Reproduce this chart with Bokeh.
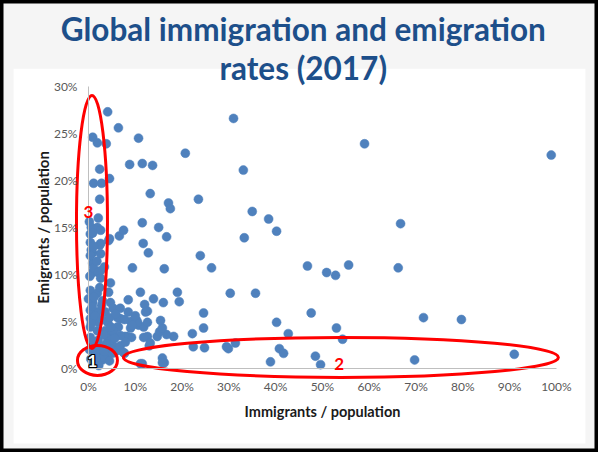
from bokeh.plotting import figure
from bokeh.models import Range1d, LinearAxis, FixedTicker, Label
from bokeh.embed import file_html
from bokeh.resources import INLINE

# Immigrants and emigrants as a share of each country's population (%), 2017
immigrants_pct = [
    4.1, 6.4, 0.9, 1.9, 3.8, 10.7, 20.7, 8.8, 11.5, 13.7,
    2.4, 1.1, 2.8, 4.5, 13.2, 23.5, 17.1, 17.5, 2.4, 2.1,
    11.5, 15.0, 16.7, 0.6, 1.9, 0.4, 6.6, 7.5, 4.5, 31.0,
    33.1, 59.0, 98.9, 35.0, 38.5, 40.2, 33.3, 66.7, 23.9, 26.3,
    46.8, 50.9, 52.8, 55.6, 66.2, 30.3, 35.7, 24.6, 47.6, 24.6,
    40.2, 53.0, 42.7, 54.3, 24.8, 29.9, 31.4, 38.9, 40.8, 41.7,
    48.5, 49.6, 71.6, 79.7, 69.7, 91.0, 9.4, 16.2, 11.7, 12.8,
    11.1, 8.5, 13.9, 12.0, 16.0, 19.0, 19.4, 12.6, 22.2, 18.2,
    16.7, 14.7, 15.2, 12.6, 13.0, 10.7, 11.8, 10.3, 9.0, 6.8,
    6.4, 8.3, 22.4, 29.5, 15.8, 16.2, 7.7, 11.1, 0.9, 2.6,
    0.4, 0.9, 2.6, 0.9, 2.6, 0.9, 4.7, 0.4, 1.9, 4.3,
    0.9, 3.0, 4.7, 5.3, 6.8, 0.4, 1.9, 3.6, 0.4, 2.1,
    4.1, 0.4, 1.9, 3.6, 5.1, 0.4, 2.1, 4.1, 5.3, 3.0,
    4.7, 4.1, 3.0, 1.9, 0.9, 0.9, 6.2, 6.2, 7.7, 6.2,
    9.0, 10.5, 9.2, 7.7, 6.8, 4.5, 2.6, 0.6, 2.4, 4.3,
    0.4, 1.1, 2.1, 0.0, 2.8, 8.5, 10.0, 12.2, 12.6, 9.4,
    5.3, 6.8, 4.7, 7.9, 11.8, 13.2, 15.8, 15.4, 3.2, 5.1,
    7.5, 11.5, 15.8, 0.2, 1.0, 1.6, 2.4, 3.3, 0.6, 1.4,
    2.8, 1.2, 2.4, 0.3, 1.8, 0.5, 2.2, 4.5, 3.8, 5.6,
    0.8, 3.2, 4.8, 5.8, 2.6, 1.1, 0.2, 3.4,
]
emigrants_pct = [
    27.3, 25.6, 24.6, 24.0, 23.9, 24.5, 22.9, 21.7, 21.8, 21.6,
    21.2, 19.7, 19.7, 20.2, 18.6, 18.0, 17.6, 17.0, 18.0, 16.0,
    15.5, 15.0, 14.0, 15.0, 15.0, 14.3, 14.1, 14.7, 13.8, 26.6,
    21.1, 23.9, 22.7, 16.7, 15.9, 14.6, 13.9, 15.4, 12.0, 10.7,
    10.9, 10.2, 9.9, 11.0, 10.7, 8.0, 8.0, 5.9, 5.9, 4.3,
    4.9, 4.3, 3.7, 3.1, 2.2, 2.1, 2.7, 0.7, 2.1, 1.6,
    1.3, 0.4, 5.4, 5.2, 0.9, 1.5, 10.7, 10.6, 13.3, 12.3,
    8.1, 7.3, 7.4, 6.8, 7.0, 8.1, 7.1, 6.1, 3.7, 3.4,
    3.6, 3.4, 3.9, 3.4, 2.4, 4.6, 4.4, 5.1, 5.0, 5.3,
    4.4, 3.4, 2.3, 2.3, 1.1, 0.6, 1.6, 0.5, 14.4, 13.3,
    13.4, 12.3, 12.2, 11.2, 10.4, 10.2, 9.1, 8.3, 8.0, 8.1,
    7.0, 7.2, 7.0, 6.4, 6.4, 6.2, 6.0, 6.0, 5.3, 4.9,
    4.9, 4.4, 4.0, 4.0, 3.8, 3.3, 3.0, 3.2, 2.4, 2.2,
    2.1, 1.4, 0.9, 1.4, 0.6, 1.9, 1.9, 5.4, 5.2, 4.4,
    4.3, 4.9, 3.3, 3.4, 2.4, 5.4, 14.7, 12.6, 13.1, 13.6,
    12.0, 10.7, 10.2, 7.4, 6.7, 6.0, 5.6, 6.0, 4.9, 4.6,
    4.0, 3.5, 3.0, 2.8, 3.3, 2.7, 4.3, 5.1, 1.2, 1.6,
    1.7, 0.5, 0.6, 2.0, 2.8, 1.0, 2.0, 1.8, 4.8, 5.6,
    5.2, 7.6, 8.6, 9.8, 11.4, 1.0, 0.3, 0.8, 2.6, 3.2,
    6.6, 3.6, 4.4, 5.8, 9.6, 13.0, 15.6, 10.8,
]

x_ticks = [0, 10, 20, 30, 40, 50, 60, 70, 80, 90, 100]
x_tick_labels = ["0%", "10%", "20%", "30%", "40%", "50%", "60%", "70%", "80%", "90%", "100%"]
y_ticks = [0, 5, 10, 15, 20, 25, 30]
y_tick_labels = ["0%", "5%", "10%", "15%", "20%", "25%", "30%"]

title_lines = ["Global immigration and emigration", "rates (2017)"]

BLUE = "#4f81bd"
RED = "#ff0000"
TITLE_BLUE = "#1d4f8a"

# The frame fills the whole canvas; the axes sit at fixed data locations.
p = figure(width=598, height=452, output_backend="svg", toolbar_location=None,
           x_range=Range1d(-18.8, 109.0), y_range=Range1d(-8.95, 39.15),
           x_axis_location=None, y_axis_location=None,
           min_border=0, title_location=None)
p.background_fill_color = "#f5f5f5"
p.border_fill_color = "#f5f5f5"
p.outline_line_color = "black"
p.outline_line_width = 6
p.xgrid.visible = False
p.ygrid.visible = False

# White chart area
p.quad(left=-16.0, right=106.2, bottom=-7.98, top=31.9,
       fill_color="white", line_color=None)

xaxis = LinearAxis(fixed_location=0, bounds=(0, 100),
                   ticker=FixedTicker(ticks=x_ticks),
                   major_label_overrides=dict(zip(x_ticks, x_tick_labels)),
                   axis_label="Immigrants / population")
yaxis = LinearAxis(fixed_location=0, bounds=(0, 30),
                   ticker=FixedTicker(ticks=y_ticks),
                   major_label_overrides=dict(zip(y_ticks, y_tick_labels)),
                   axis_label="Emigrants / population")
for ax in (xaxis, yaxis):
    ax.axis_line_color = "#bfbfbf"
    ax.axis_line_width = 1
    ax.major_tick_in = 0
    ax.major_tick_out = 0
    ax.minor_tick_in = 0
    ax.minor_tick_out = 0
    ax.major_label_text_font = "Lato"
    ax.major_label_text_font_size = "12px"
    ax.major_label_text_color = "#595959"
    ax.axis_label_text_font = "Lato"
    ax.axis_label_text_font_size = "14.5px"
    ax.axis_label_text_font_style = "bold"
    ax.axis_label_text_color = "#1a1a1a"
xaxis.major_label_standoff = 11
xaxis.axis_label_standoff = 5
yaxis.major_label_standoff = 11
yaxis.axis_label_standoff = -1
yaxis.axis_label_text_font_size = "15px"
p.add_layout(xaxis, "below")
p.add_layout(yaxis, "left")

p.scatter(x=immigrants_pct, y=emigrants_pct, size=9,
          fill_color=BLUE, line_color=BLUE, line_width=0.5)

# Highlight groups
p.ellipse(x=[1.92, 0.75, 53.95], y=[0.85, 15.59, 1.17],
          width=[40, 31, 435], height=[30, 253, 40],
          width_units="screen", height_units="screen",
          fill_color=None, line_color=RED, line_width=3)

for txt, gx, gy in (("2", 53.6, 0.43), ("3", 0.0, 16.6)):
    p.add_layout(Label(x=gx, y=gy, text=txt, text_align="center",
                       text_baseline="middle", text_font="Lato",
                       text_font_style="bold", text_font_size="17px",
                       text_color=RED))

# Outlined "1"
for dx, dy in ((-1, 0), (1, 0), (0, -1), (0, 1), (-1, -1), (1, 1), (-1, 1), (1, -1)):
    p.add_layout(Label(x=0.85, y=0.74, x_offset=dx, y_offset=dy, text="1",
                       text_align="center", text_baseline="middle",
                       text_font="Lato", text_font_style="bold",
                       text_font_size="17px", text_color="black"))
p.add_layout(Label(x=0.85, y=0.74, text="1", text_align="center",
                   text_baseline="middle", text_font="Lato",
                   text_font_style="bold", text_font_size="17px",
                   text_color="white"))

# Title
for line, ty in zip(title_lines, (36.1, 31.92)):
    p.add_layout(Label(x=45.9, y=ty, text=line, text_align="center",
                       text_baseline="alphabetic", text_font="Lato",
                       text_font_style="bold", text_font_size="31.5px",
                       text_color=TITLE_BLUE))

open("out.html", "w").write(file_html(p, INLINE))
